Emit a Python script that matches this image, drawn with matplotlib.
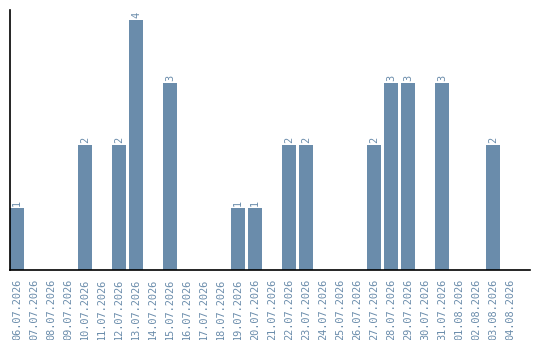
import matplotlib
matplotlib.use("Agg")
import matplotlib.pyplot as plt

dates = ["06.07.2026", "07.07.2026", "08.07.2026", "09.07.2026", "10.07.2026",
         "11.07.2026", "12.07.2026", "13.07.2026", "14.07.2026", "15.07.2026",
         "16.07.2026", "17.07.2026", "18.07.2026", "19.07.2026", "20.07.2026",
         "21.07.2026", "22.07.2026", "23.07.2026", "24.07.2026", "25.07.2026",
         "26.07.2026", "27.07.2026", "28.07.2026", "29.07.2026", "30.07.2026",
         "31.07.2026", "01.08.2026", "02.08.2026", "03.08.2026", "04.08.2026"]
counts = [1, 0, 0, 0, 2, 0, 2, 4, 0, 3,
          0, 0, 0, 1, 1, 0, 2, 2, 0, 0,
          0, 2, 3, 3, 0, 3, 0, 0, 2, 0]

bar_color = "#6a8cab"
text_color = "#6a8cab"

fig = plt.figure(figsize=(5.4, 3.4), dpi=100)
ax = fig.add_axes([10 / 540, 70 / 340, 520 / 540, 260 / 340])

width = 14 / 17
xs = list(range(len(dates)))
ax.bar(xs, counts, width=width, align="edge", color=bar_color)

for x, v in zip(xs, counts):
    if v > 0:
        ax.text(x + width / 2, v + 0.03, str(v), rotation=90, ha="center", va="bottom",
                color=text_color, fontsize=7.4, family="DejaVu Sans Mono")

ax.set_xlim(0, 520 / 17)
ax.set_ylim(0, 260 / 62.5)
ax.set_xticks([x + width / 2 for x in xs])
ax.set_xticklabels(dates, rotation=90, color=text_color, fontsize=7.4,
                   family="DejaVu Sans Mono")
ax.tick_params(axis="x", length=0, pad=6)
ax.set_yticks([])
for side in ("top", "right"):
    ax.spines[side].set_visible(False)
for side in ("left", "bottom"):
    ax.spines[side].set_color("black")
    ax.spines[side].set_linewidth(1.2)

fig.savefig("out.png", dpi=100)
